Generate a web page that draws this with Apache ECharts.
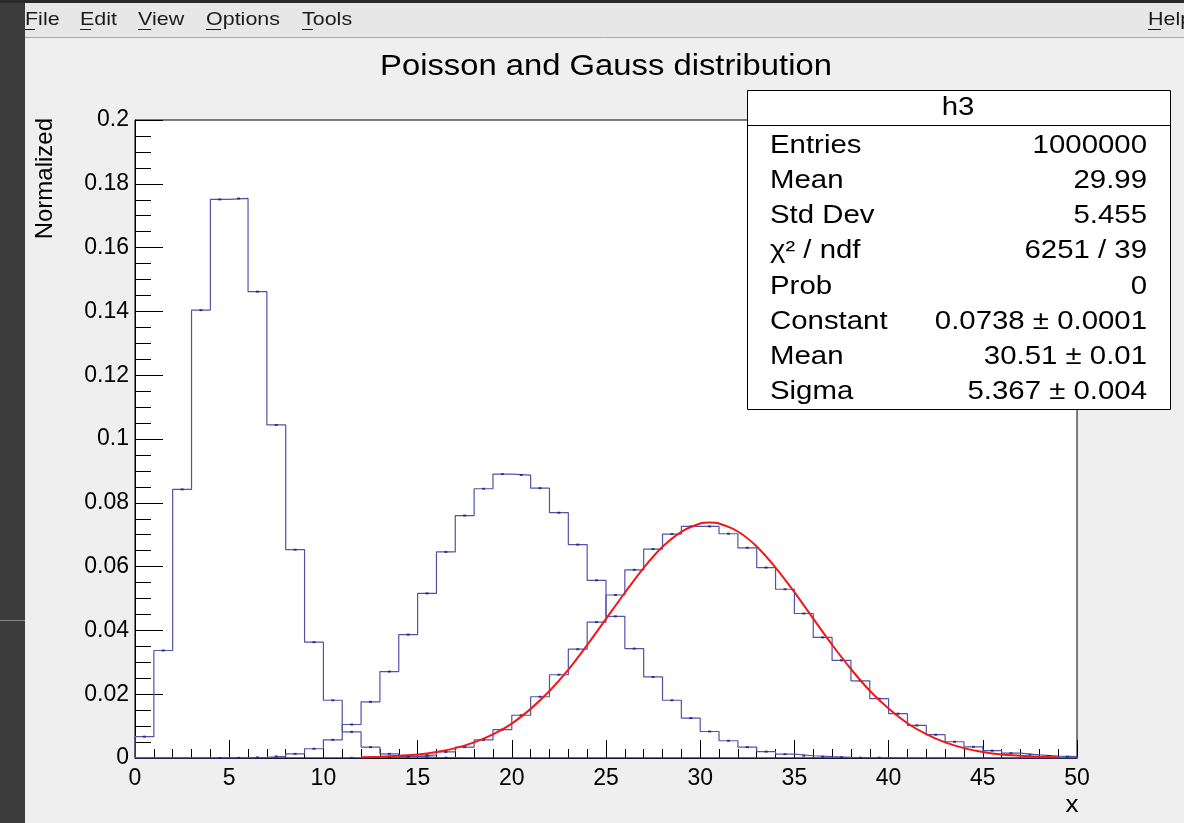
<!DOCTYPE html>
<html>
<head>
<meta charset="utf-8">
<script src="https://cdn.jsdelivr.net/npm/echarts@6/dist/echarts.min.js"></script>
<style>
html,body{margin:0;padding:0;background:#efefef;}
#chart{width:1184px;height:823px;}
</style>
</head>
<body>
<div id="chart"></div>
<script>
// ---- data (bin contents, 50 bins of width 1 from 0 to 50) ----
const binEdgesMin = 0;
const binWidth = 1;
const h1Poisson5 = [0.0067,0.0337,0.0842,0.1404,0.1751,0.1754,0.1462,0.1044,0.0653,0.0363,
  0.0181,0.0082,0.0034,0.0013,0.0005,0.0002,0.0001,0,0,0,
  0,0,0,0,0,0,0,0,0,0, 0,0,0,0,0,0,0,0,0,0, 0,0,0,0,0,0,0,0,0,0];
const h2Poisson20 = [0,0,0,0,0.00001,0.00005,0.0002,0.0005,0.0013,0.0029,
  0.0057,0.0105,0.0176,0.0271,0.0387,0.0516,0.0646,0.0760,0.0844,0.0890,
  0.0887,0.0846,0.0769,0.0669,0.0557,0.0444,0.0343,0.0254,0.0181,0.0125,
  0.0083,0.0054,0.0034,0.0020,0.0012,0.0007,0.0004,0.0002,0.0001,0.0001,
  0,0,0,0,0,0,0,0,0,0];
const h3Poisson30 = [0,0,0,0,0,0,0,0,0,0,
  0,0.00004,0.0001,0.0002,0.0005,0.0010,0.0019,0.0034,0.0057,0.0089,
  0.0134,0.0192,0.0261,0.0341,0.0426,0.0511,0.0590,0.0655,0.0702,0.0726,
  0.0726,0.0703,0.0659,0.0597,0.0529,0.0453,0.0378,0.0306,0.0242,0.0186,
  0.0139,0.0102,0.0073,0.0051,0.0035,0.0023,0.0015,0.0010,0.0006,0.0004];
// red fit curve
const gaussX = [12,13,14,15,16,17,18,19,20,21,22,23,24,25,26,27,28,29,30,30.5,31,32,33,34,35,36,37,38,39,40,41,42,43,44,45,46,47,48,49];
const gaussY = [0.0002,0.0004,0.0007,0.0011,0.0019,0.0031,0.0049,0.0074,0.0108,0.0154,0.0210,0.0277,0.0354,0.0436,0.0518,0.0596,0.0662,0.0709,0.0735,0.0738,0.0735,0.0710,0.0663,0.0597,0.0520,0.0437,0.0355,0.0279,0.0211,0.0155,0.0109,0.0075,0.0049,0.0031,0.0019,0.0011,0.0007,0.0004,0.0002];
const xTickLabels = ['0','5','10','15','20','25','30','35','40','45','50'];
const yTickLabels = ['0','0.02','0.04','0.06','0.08','0.1','0.12','0.14','0.16','0.18','0.2'];
const statsLabels = ['Entries','Mean','Std Dev','\u03C7\u00B2 / ndf','Prob','Constant','Mean','Sigma'];
const statsValues = ['1000000','29.99','5.455','6251 / 39','0','0.0738 \u00B1 0.0001','30.51 \u00B1 0.01','5.367 \u00B1 0.004'];
const menuItems = ['File','Edit','View','Options','Tools'];

function stepData(bins){
  const d = [[binEdgesMin,0]];
  for(let i=0;i<bins.length;i++) d.push([binEdgesMin+i*binWidth, bins[i]]);
  d.push([binEdgesMin+bins.length*binWidth, bins[bins.length-1]]);
  d.push([binEdgesMin+bins.length*binWidth, 0]);
  return d;
}
function markerData(bins){
  const d=[];
  for(let i=0;i<bins.length;i++) if(bins[i]>0) d.push([binEdgesMin+(i+0.5)*binWidth, bins[i]]);
  return d;
}
const FONT = '"Liberation Sans", Arial, Helvetica, sans-serif';
const SX = 1.13;

const graphics = [];
// window chrome
graphics.push({type:'rect', shape:{x:0,y:0,width:25,height:823}, style:{fill:'#3c3c3c'}, z:1});
graphics.push({type:'rect', shape:{x:0,y:0,width:1184,height:3}, style:{fill:'#2a2a2a'}, z:1});
graphics.push({type:'line', shape:{x1:0,y1:620.5,x2:25,y2:620.5}, style:{stroke:'#8a8a8a',lineWidth:1}, z:2});
graphics.push({type:'rect', shape:{x:25,y:3,width:1159,height:34}, style:{fill:'#e7e7e7'}, z:1});
graphics.push({type:'line', shape:{x1:25,y1:37.5,x2:1184,y2:37.5}, style:{stroke:'#a8a8a8',lineWidth:1}, z:2});
const menuX = [25,80,138,206,302];
const ulW = [10,11,13,15,11];
menuItems.forEach((m,i)=>{
  graphics.push({type:'text', x:menuX[i], y:20, scaleX:SX, z:3,
    style:{text:m, font:'19px '+FONT, fill:'#1a1a1a', textAlign:'left', textVerticalAlign:'middle'}});
  graphics.push({type:'line', shape:{x1:menuX[i],y1:29.5,x2:menuX[i]+ulW[i],y2:29.5}, style:{stroke:'#1a1a1a',lineWidth:1}, z:3});
});
graphics.push({type:'text', x:1148, y:20, scaleX:SX, z:3,
  style:{text:'Help', font:'19px '+FONT, fill:'#1a1a1a', textAlign:'left', textVerticalAlign:'middle'}});
graphics.push({type:'line', shape:{x1:1148,y1:29.5,x2:1161,y2:29.5}, style:{stroke:'#1a1a1a',lineWidth:1}, z:3});
// title
graphics.push({type:'text', x:606, y:67, scaleX:SX, z:3,
  style:{text:'Poisson and Gauss distribution', font:'29px '+FONT, fill:'#000', textAlign:'center', textVerticalAlign:'middle'}});
// axis titles
graphics.push({type:'text', x:1072, y:806, scaleX:SX, z:3,
  style:{text:'x', font:'23px '+FONT, fill:'#000', textAlign:'center', textVerticalAlign:'middle'}});
graphics.push({type:'text', x:45, y:118, rotation:Math.PI/2, z:3,
  style:{text:'Normalized', font:'24px '+FONT, fill:'#000', textAlign:'right', textVerticalAlign:'middle'}});
// stats box
graphics.push({type:'rect', shape:{x:747.5,y:90.5,width:423,height:319}, style:{fill:'#fff',stroke:'#000',lineWidth:1}, z:100});
graphics.push({type:'line', shape:{x1:747.5,y1:125.5,x2:1170.5,y2:125.5}, style:{stroke:'#000',lineWidth:1}, z:101});
graphics.push({type:'text', x:958, y:108, scaleX:SX, z:101,
  style:{text:'h3', font:'26px '+FONT, fill:'#000', textAlign:'center', textVerticalAlign:'middle'}});
statsLabels.forEach((l,i)=>{
  const y = 146 + i*35.1;
  graphics.push({type:'text', x:770, y:y, scaleX:SX, z:101,
    style:{text:l, font:'26px '+FONT, fill:'#000', textAlign:'left', textVerticalAlign:'middle'}});
  graphics.push({type:'text', x:1147, y:y, scaleX:SX, z:101,
    style:{text:statsValues[i], font:'26px '+FONT, fill:'#000', textAlign:'right', textVerticalAlign:'middle'}});
});

const histColor = '#5252aa';
const markColor = '#1a1a78';
const option = {
  backgroundColor:'#efefef',
  animation:false,
  grid:{left:135, right:107, top:120, bottom:65, show:true, backgroundColor:'#ffffff', borderColor:'#000', borderWidth:1},
  xAxis:{type:'value', min:0, max:50, interval:5,
    axisLine:{show:true, onZero:false, lineStyle:{color:'#000',width:1}},
    axisTick:{show:true, inside:true, length:18, lineStyle:{color:'#000',width:1}},
    minorTick:{show:true, splitNumber:5, length:9, lineStyle:{color:'#000',width:1}},
    splitLine:{show:false},
    axisLabel:{margin:9, fontSize:23, color:'#000', fontFamily:FONT,
      formatter:(v,i)=>xTickLabels[i]}},
  yAxis:{type:'value', min:0, max:0.2, interval:0.02,
    axisLine:{show:true, lineStyle:{color:'#000',width:1}},
    axisTick:{show:true, inside:true, length:28, lineStyle:{color:'#000',width:1}},
    minorTick:{show:true, splitNumber:4, length:16, lineStyle:{color:'#000',width:1}},
    splitLine:{show:false},
    axisLabel:{margin:6, fontSize:23, color:'#000', fontFamily:FONT,
      formatter:(v,i)=>yTickLabels[i]}},
  series:[
    {type:'line', step:'end', data:stepData(h1Poisson5), showSymbol:false, lineStyle:{color:histColor,width:1.2}, z:3},
    {type:'line', step:'end', data:stepData(h2Poisson20), showSymbol:false, lineStyle:{color:histColor,width:1.2}, z:3},
    {type:'line', step:'end', data:stepData(h3Poisson30), showSymbol:false, lineStyle:{color:histColor,width:1.2}, z:3},
    {type:'scatter', data:markerData(h1Poisson5).concat(markerData(h2Poisson20), markerData(h3Poisson30)),
      symbol:'rect', symbolSize:[3,2], itemStyle:{color:markColor}, z:4},
    {type:'line', data:gaussX.map((x,i)=>[x,gaussY[i]]), smooth:0.3, showSymbol:false,
      lineStyle:{color:'#f01818',width:2}, z:5}
  ],
  graphic:graphics
};
const chart = echarts.init(document.getElementById('chart'), null, {renderer:'canvas'});
chart.setOption(option);
</script>
</body>
</html>
